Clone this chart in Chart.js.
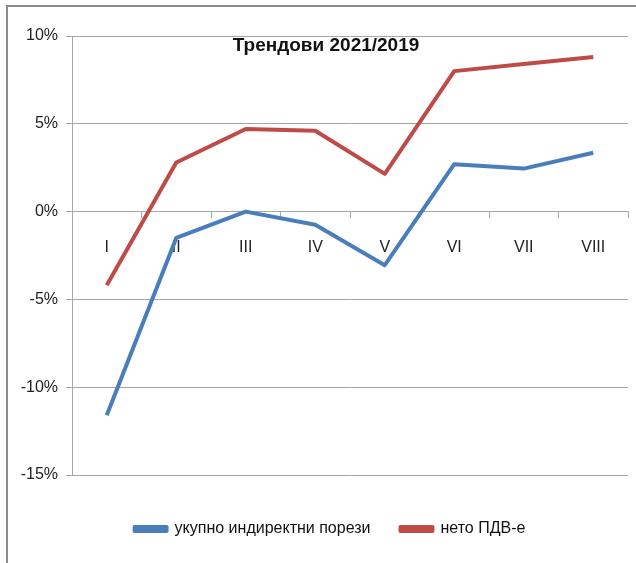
<!DOCTYPE html>
<html>
<head>
<meta charset="utf-8">
<script src="https://cdn.jsdelivr.net/npm/chart.js@4.4.0/dist/chart.umd.min.js"></script>
<style>
    body { margin: 0; background: #fff; }
    #frame {
        position: absolute; left: 6px; top: 5px; width: 640px; height: 570px;
        border-left: 2px solid #8a8a8a; border-top: 2px solid #8a8a8a;
    }
    #wrap { position: absolute; left: 0; top: 0; width: 636px; height: 563px; }
</style>
</head>
<body>
<div id="frame"></div>
<div id="wrap"><canvas id="trendChart" width="636" height="563"></canvas></div>
<script>
const months = ["I", "II", "III", "IV", "V", "VI", "VII", "VIII"];
const indirectTaxes = [-11.6, -1.5, 0.0, -0.75, -3.05, 2.7, 2.45, 3.35];
const netVat = [-4.2, 2.8, 4.7, 4.6, 2.15, 8.0, 8.4, 8.8];
const yTicks = [-15, -10, -5, 0, 5, 10];

const FONT = "'Liberation Sans Narrow', 'Arial Narrow', 'Liberation Sans', sans-serif";

// title sits inside the plot area
const innerTitle = {
    id: "innerTitle",
    afterDraw(chart) {
        const ctx = chart.ctx;
        ctx.save();
        ctx.font = "bold 19px " + FONT;
        ctx.fillStyle = "#111";
        ctx.textAlign = "center";
        ctx.textBaseline = "middle";
        ctx.fillText("Трендови 2021/2019", 326, 46);
        ctx.restore();
    }
};

// legend in the original is centred a bit right of the canvas middle
const legendShift = {
    id: "legendShift",
    afterLayout(chart) {
        chart.legend.left += 16;
        chart.legend.right += 16;
    }
};

new Chart(document.getElementById("trendChart"), {
    type: "line",
    data: {
        labels: months,
        datasets: [{
            label: "укупно индиректни порези",
            data: indirectTaxes,
            borderColor: "#4a7ebb",
            backgroundColor: "#4a7ebb",
            borderWidth: 4,
            pointRadius: 0,
            borderJoinStyle: "round",
            tension: 0
        }, {
            label: "нето ПДВ-е",
            data: netVat,
            borderColor: "#be4b48",
            backgroundColor: "#be4b48",
            borderWidth: 4,
            pointRadius: 0,
            borderJoinStyle: "round",
            tension: 0
        }]
    },
    options: {
        responsive: false,
        animation: false,
        layout: { padding: { top: 36, right: 8, left: 0, bottom: 16 } },
        plugins: {
            legend: {
                position: "bottom",
                labels: {
                    boxWidth: 32,
                    boxHeight: 4,
                    padding: 30,
                    color: "#111",
                    font: { family: FONT, size: 16 }
                }
            },
            tooltip: { enabled: false }
        },
        scales: {
            x: {
                position: { y: 0 },
                offset: true,
                grid: {
                    offset: true,
                    drawOnChartArea: false,
                    drawTicks: true,
                    tickLength: 6,
                    color: "#a6a6a6"
                },
                border: { display: true, color: "#a6a6a6" },
                ticks: {
                    padding: 20,
                    color: "#222",
                    font: { family: FONT, size: 16 }
                }
            },
            spacer: {
                type: "category",
                labels: months,
                position: "bottom",
                grid: { display: false },
                border: { display: false },
                ticks: { display: false },
                afterFit: s => { s.height = 16; }
            },
            y: {
                min: -15,
                max: 10,
                afterBuildTicks: s => { s.ticks = yTicks.map(v => ({ value: v })); },
                afterFit: s => { s.width = 72; },
                grid: { color: "#a6a6a6", tickLength: 6 },
                border: { display: true, color: "#a6a6a6" },
                ticks: {
                    padding: 8,
                    color: "#222",
                    font: { family: FONT, size: 16 },
                    callback: v => v + "%"
                }
            }
        }
    },
    plugins: [innerTitle, legendShift]
});
</script>
</body>
</html>
